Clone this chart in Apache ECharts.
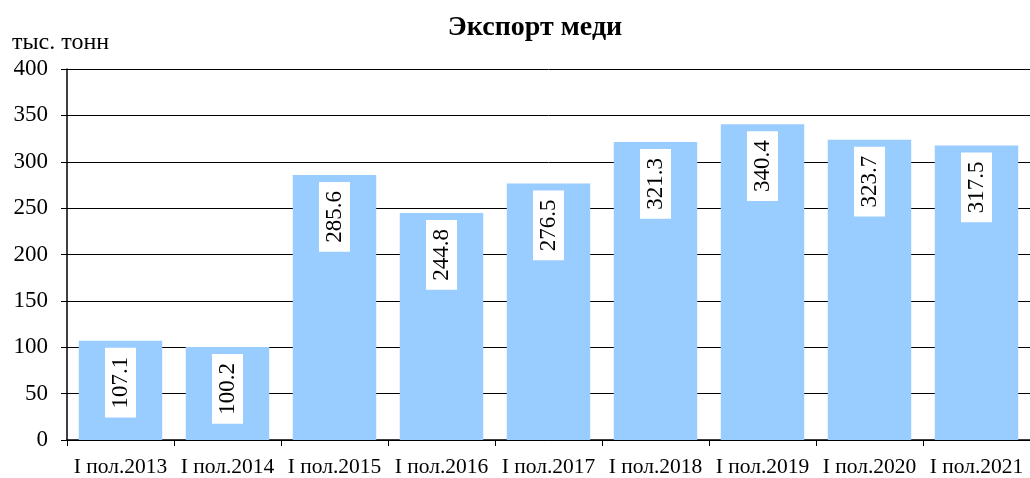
<!DOCTYPE html>
<html><head><meta charset="utf-8">
<script src="https://cdn.jsdelivr.net/npm/echarts@6/dist/echarts.min.js"></script>
<style>html,body{margin:0;padding:0;background:#fff}#c{width:1030px;height:478px}</style>
</head><body><div id="c"></div>
<script>
const categories = ['I пол.2013','I пол.2014','I пол.2015','I пол.2016','I пол.2017','I пол.2018','I пол.2019','I пол.2020','I пол.2021'];
const values = [107.1, 100.2, 285.6, 244.8, 276.5, 321.3, 340.4, 323.7, 317.5];
const titleText = 'Экспорт меди';
const unitText = 'тыс. тонн';

const chart = echarts.init(document.getElementById('c'), null, {renderer:'canvas'});
const serif = '"Liberation Serif", "DejaVu Serif", serif';
chart.setOption({
  animation:false,
  title:{text:titleText,left:530,top:9,textAlign:'center',textStyle:{fontFamily:serif,fontWeight:'bold',fontSize:28,color:'#000'}},
  grid:{left:67,right:0,top:69,bottom:38},
  xAxis:{type:'category',data:categories,
    axisLine:{lineStyle:{color:'#000',width:1.5}},
    axisTick:{show:true,alignWithLabel:false,length:6,lineStyle:{color:'#000'}},
    axisLabel:{fontFamily:serif,fontSize:21.5,color:'#000',margin:16,interval:0}},
  yAxis:{type:'value',min:0,max:400,interval:50,
    name:unitText,nameLocation:'end',nameGap:14,
    nameTextStyle:{fontFamily:serif,fontSize:24,color:'#000',align:'left',padding:[0,0,0,-55]},
    axisLine:{show:true,lineStyle:{color:'#000',width:1.5}},
    axisTick:{show:true,length:6,lineStyle:{color:'#000'}},
    axisLabel:{fontFamily:serif,fontSize:23,color:'#000',margin:19},
    splitLine:{lineStyle:{color:'#000',width:1}}},
  series:[{type:'bar',data:values,barCategoryGap:'22%',
    itemStyle:{color:'#99CCFF'},
    label:{show:true,position:'insideTop',rotate:90,align:'right',verticalAlign:'middle',distance:7,
      formatter:p=>p.value.toFixed(1),
      fontFamily:serif,fontSize:23,color:'#000',backgroundColor:'#fff',padding:[4,9,4,9]}}]
});
</script></body></html>
